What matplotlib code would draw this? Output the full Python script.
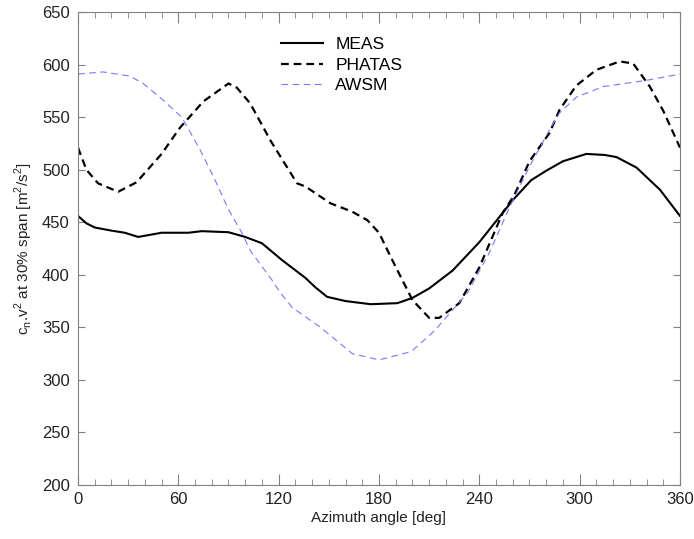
import numpy as np
import matplotlib
matplotlib.use("Agg")
import matplotlib.pyplot as plt
from matplotlib.ticker import MultipleLocator

plt.rcParams['font.family'] = ['Liberation Sans', 'DejaVu Sans']
plt.rcParams['mathtext.fontset'] = 'custom'
plt.rcParams['mathtext.rm'] = 'Liberation Sans'

# MEAS (solid)
meas_angle = [0, 5, 10, 20, 28, 36, 50, 66, 74, 90, 100, 110, 122, 136, 142, 149, 160,
              175, 191, 200, 210, 224, 240, 260, 271, 280, 290, 304, 315, 322, 334, 348, 360]
meas_val = [456, 449, 445, 442, 440, 436, 440, 440, 441.5, 440.5, 436, 430, 414, 397, 388, 379, 375,
            372, 373, 378, 387, 404, 431, 471, 490, 499, 508, 515, 514, 512, 502, 481, 456]

# PHATAS (thick dashed)
phatas_angle = [0, 5, 12, 24, 35, 50, 61, 75, 90, 95, 103, 115, 131, 136, 151, 164, 173,
                180, 187, 193, 200, 210, 216, 228, 240, 254, 261, 270, 282, 288, 298, 310,
                324, 332, 342, 350, 360]
phatas_val = [521, 500, 487, 479, 488, 515, 540, 565, 582, 578, 563, 528, 487, 484, 468, 460, 452,
              440, 417, 398, 376, 359, 359, 373, 407, 459, 476, 508, 535, 557, 580, 595,
              603, 601, 579, 556, 521]

# AWSM (thin blue dashed)
awsm_angle = [0, 15, 31, 39, 51, 62, 73, 82, 90, 98, 103, 116, 121, 128, 145, 164, 180,
              197, 200, 212, 215, 233, 246, 258, 270, 282, 288, 298, 314, 340, 360]
awsm_val = [591, 593, 589, 582, 566, 550, 519, 490, 462, 440, 423, 395, 383, 369, 350, 325, 319,
            326, 328, 345, 350, 383, 421, 464, 503, 538, 554, 569, 579, 585, 591]

fig = plt.figure(figsize=(6.94, 5.39), dpi=100)
ax = fig.add_axes([0.1124, 0.1002, 0.8674, 0.8775])

ax.plot(meas_angle, meas_val, color='black', lw=1.5, label='MEAS')
ax.plot(phatas_angle, phatas_val, color='black', lw=1.6, dashes=(3.5, 2.2), label='PHATAS')
ax.plot(awsm_angle, awsm_val, color='#7878ff', lw=0.8, dashes=(6, 4), label='AWSM')

ax.set_xlim(0, 360)
ax.set_ylim(200, 650)
ax.xaxis.set_major_locator(MultipleLocator(60))
ax.xaxis.set_minor_locator(MultipleLocator(10))
ax.yaxis.set_major_locator(MultipleLocator(50))

for s in ax.spines.values():
    s.set_color('#808080')
    s.set_linewidth(0.8)
ax.tick_params(which='both', direction='in', top=True, right=True, color='#808080',
               labelsize=12, labelcolor='#222222')
ax.tick_params(axis='x', which='major', length=8, pad=5)
ax.tick_params(axis='x', which='minor', length=4)
ax.tick_params(axis='y', which='major', length=5, pad=6)

ax.set_xlabel('Azimuth angle [deg]', fontsize=11, color='#222222', labelpad=3)
ax.set_ylabel(r'c$_\mathregular{n}$.v$^\mathregular{2}$ at 30% span [m$^\mathregular{2}$/s$^\mathregular{2}$]',
              fontsize=11, color='#222222', labelpad=5)

ax.legend(loc='upper left', bbox_to_anchor=(0.312, 0.98), frameon=False, fontsize=12.5,
          handlelength=2.4, labelspacing=0.3, handletextpad=0.7)

fig.savefig('out.png', dpi=100)
